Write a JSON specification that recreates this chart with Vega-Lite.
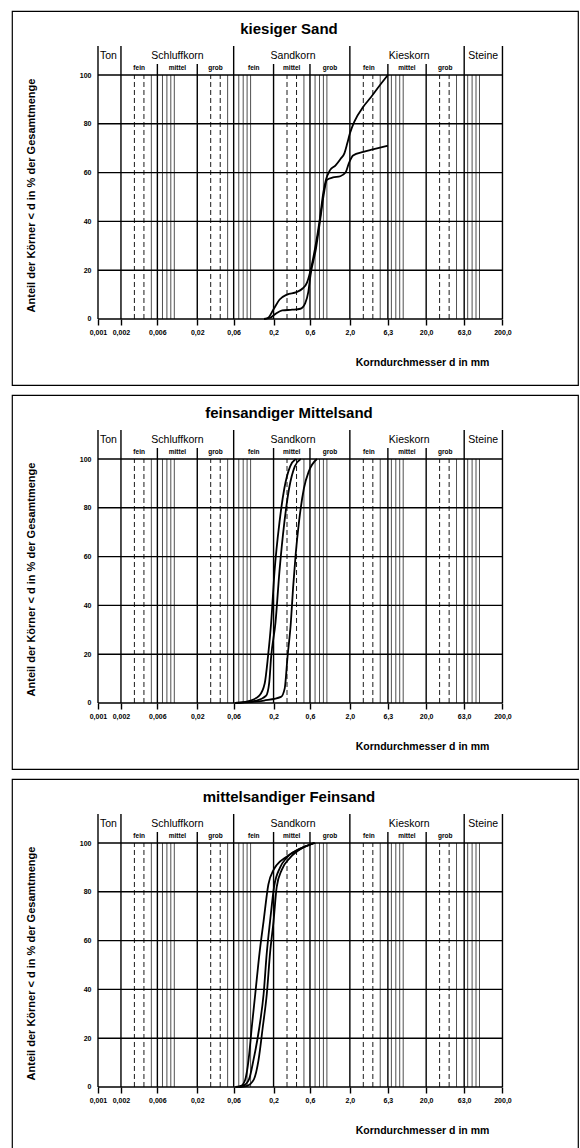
{
  "$schema": "https://vega.github.io/schema/vega-lite/v6.json",
  "background": "white",
  "padding": {"top": 10, "left": 11, "right": 0, "bottom": 0},
  "spacing": 8,
  "config": {"view": {"stroke": "black", "strokeWidth": 1.2}, "font": "Liberation Sans"},
  "datasets": {
    "hgrid": [{"p": 0}, {"p": 20}, {"p": 40}, {"p": 60}, {"p": 80}, {"p": 100}],
    "thin": [
      {"d": 0.003, "k": "dash"}, {"d": 0.004, "k": "dash"}, {"d": 0.005, "k": "solid"}, {"d": 0.007, "k": "solid"}, {"d": 0.008, "k": "solid"}, {"d": 0.009, "k": "solid"}, {"d": 0.01, "k": "solid"},
      {"d": 0.03, "k": "dash"}, {"d": 0.04, "k": "dash"}, {"d": 0.05, "k": "solid"}, {"d": 0.07, "k": "solid"}, {"d": 0.08, "k": "solid"}, {"d": 0.09, "k": "solid"}, {"d": 0.1, "k": "solid"},
      {"d": 0.3, "k": "dash"}, {"d": 0.4, "k": "dash"}, {"d": 0.5, "k": "solid"}, {"d": 0.7, "k": "solid"}, {"d": 0.8, "k": "solid"}, {"d": 0.9, "k": "solid"}, {"d": 1, "k": "solid"},
      {"d": 3, "k": "dash"}, {"d": 4, "k": "dash"}, {"d": 5, "k": "solid"}, {"d": 7, "k": "solid"}, {"d": 8, "k": "solid"}, {"d": 9, "k": "solid"}, {"d": 10, "k": "solid"},
      {"d": 30, "k": "dash"}, {"d": 40, "k": "dash"}, {"d": 50, "k": "solid"}, {"d": 70, "k": "solid"}, {"d": 80, "k": "solid"}, {"d": 90, "k": "solid"}, {"d": 100, "k": "solid"}
    ],
    "classlines": [{"d": 0.001}, {"d": 0.002}, {"d": 0.06}, {"d": 2}, {"d": 63}, {"d": 200}],
    "sublines": [{"d": 0.006}, {"d": 0.02}, {"d": 0.2}, {"d": 0.6}, {"d": 6.3}, {"d": 20}],
    "classes": [
      {"name": "Ton", "d": 0.00137}, {"name": "Schluffkorn", "d": 0.011}, {"name": "Sandkorn", "d": 0.36},
      {"name": "Kieskorn", "d": 12}, {"name": "Steine", "d": 112}
    ],
    "subclasses": [
      {"name": "fein", "d": 0.00346}, {"name": "mittel", "d": 0.011}, {"name": "grob", "d": 0.0346},
      {"name": "fein", "d": 0.11}, {"name": "mittel", "d": 0.346}, {"name": "grob", "d": 1.1},
      {"name": "fein", "d": 3.55}, {"name": "mittel", "d": 11.2}, {"name": "grob", "d": 35.5}
    ],
    "curves": [
      {"panel": 1, "s": "a", "d": 0.15, "p": 0}, {"panel": 1, "s": "a", "d": 0.17, "p": 0.5}, {"panel": 1, "s": "a", "d": 0.2, "p": 4},
      {"panel": 1, "s": "a", "d": 0.24, "p": 8}, {"panel": 1, "s": "a", "d": 0.3, "p": 10}, {"panel": 1, "s": "a", "d": 0.4, "p": 11},
      {"panel": 1, "s": "a", "d": 0.48, "p": 12.5}, {"panel": 1, "s": "a", "d": 0.55, "p": 15}, {"panel": 1, "s": "a", "d": 0.6, "p": 19},
      {"panel": 1, "s": "a", "d": 0.7, "p": 29}, {"panel": 1, "s": "a", "d": 0.8, "p": 40}, {"panel": 1, "s": "a", "d": 0.9, "p": 52},
      {"panel": 1, "s": "a", "d": 0.97, "p": 57}, {"panel": 1, "s": "a", "d": 1.1, "p": 61}, {"panel": 1, "s": "a", "d": 1.3, "p": 63},
      {"panel": 1, "s": "a", "d": 1.5, "p": 65.5}, {"panel": 1, "s": "a", "d": 1.7, "p": 68}, {"panel": 1, "s": "a", "d": 1.85, "p": 72},
      {"panel": 1, "s": "a", "d": 2.0, "p": 76}, {"panel": 1, "s": "a", "d": 2.3, "p": 81}, {"panel": 1, "s": "a", "d": 3.0, "p": 87},
      {"panel": 1, "s": "a", "d": 3.8, "p": 91}, {"panel": 1, "s": "a", "d": 5.0, "p": 96}, {"panel": 1, "s": "a", "d": 6.3, "p": 100},
      {"panel": 1, "s": "b", "d": 0.15, "p": 0}, {"panel": 1, "s": "b", "d": 0.18, "p": 0.5}, {"panel": 1, "s": "b", "d": 0.21, "p": 2},
      {"panel": 1, "s": "b", "d": 0.26, "p": 3.5}, {"panel": 1, "s": "b", "d": 0.35, "p": 3.8}, {"panel": 1, "s": "b", "d": 0.45, "p": 4.2},
      {"panel": 1, "s": "b", "d": 0.52, "p": 6.5}, {"panel": 1, "s": "b", "d": 0.57, "p": 11}, {"panel": 1, "s": "b", "d": 0.61, "p": 18},
      {"panel": 1, "s": "b", "d": 0.72, "p": 29}, {"panel": 1, "s": "b", "d": 0.82, "p": 41}, {"panel": 1, "s": "b", "d": 0.92, "p": 52},
      {"panel": 1, "s": "b", "d": 1.0, "p": 57}, {"panel": 1, "s": "b", "d": 1.2, "p": 58}, {"panel": 1, "s": "b", "d": 1.5, "p": 58.5},
      {"panel": 1, "s": "b", "d": 1.75, "p": 60}, {"panel": 1, "s": "b", "d": 1.95, "p": 64}, {"panel": 1, "s": "b", "d": 2.2, "p": 67},
      {"panel": 1, "s": "b", "d": 3.0, "p": 68.5}, {"panel": 1, "s": "b", "d": 4.0, "p": 69.5}, {"panel": 1, "s": "b", "d": 6.3, "p": 71},

      {"panel": 2, "s": "a", "d": 0.063, "p": 0}, {"panel": 2, "s": "a", "d": 0.1, "p": 1}, {"panel": 2, "s": "a", "d": 0.13, "p": 3},
      {"panel": 2, "s": "a", "d": 0.153, "p": 8}, {"panel": 2, "s": "a", "d": 0.169, "p": 19}, {"panel": 2, "s": "a", "d": 0.186, "p": 33},
      {"panel": 2, "s": "a", "d": 0.206, "p": 54}, {"panel": 2, "s": "a", "d": 0.239, "p": 74}, {"panel": 2, "s": "a", "d": 0.277, "p": 88},
      {"panel": 2, "s": "a", "d": 0.33, "p": 97}, {"panel": 2, "s": "a", "d": 0.39, "p": 100},
      {"panel": 2, "s": "b", "d": 0.063, "p": 0}, {"panel": 2, "s": "b", "d": 0.12, "p": 1}, {"panel": 2, "s": "b", "d": 0.16, "p": 3},
      {"panel": 2, "s": "b", "d": 0.175, "p": 8}, {"panel": 2, "s": "b", "d": 0.186, "p": 19}, {"panel": 2, "s": "b", "d": 0.212, "p": 33},
      {"panel": 2, "s": "b", "d": 0.239, "p": 54}, {"panel": 2, "s": "b", "d": 0.277, "p": 74}, {"panel": 2, "s": "b", "d": 0.32, "p": 88},
      {"panel": 2, "s": "b", "d": 0.38, "p": 97}, {"panel": 2, "s": "b", "d": 0.454, "p": 100},
      {"panel": 2, "s": "c", "d": 0.063, "p": 0}, {"panel": 2, "s": "c", "d": 0.15, "p": 1}, {"panel": 2, "s": "c", "d": 0.25, "p": 2.5},
      {"panel": 2, "s": "c", "d": 0.28, "p": 6}, {"panel": 2, "s": "c", "d": 0.305, "p": 19}, {"panel": 2, "s": "c", "d": 0.337, "p": 33},
      {"panel": 2, "s": "c", "d": 0.36, "p": 47}, {"panel": 2, "s": "c", "d": 0.39, "p": 61}, {"panel": 2, "s": "c", "d": 0.43, "p": 74},
      {"panel": 2, "s": "c", "d": 0.5, "p": 88}, {"panel": 2, "s": "c", "d": 0.58, "p": 95}, {"panel": 2, "s": "c", "d": 0.74, "p": 100},

      {"panel": 3, "s": "a", "d": 0.063, "p": 0}, {"panel": 3, "s": "a", "d": 0.075, "p": 0.5}, {"panel": 3, "s": "a", "d": 0.085, "p": 3},
      {"panel": 3, "s": "a", "d": 0.094, "p": 11}, {"panel": 3, "s": "a", "d": 0.104, "p": 25}, {"panel": 3, "s": "a", "d": 0.115, "p": 38},
      {"panel": 3, "s": "a", "d": 0.131, "p": 55}, {"panel": 3, "s": "a", "d": 0.148, "p": 68}, {"panel": 3, "s": "a", "d": 0.171, "p": 83},
      {"panel": 3, "s": "a", "d": 0.2, "p": 89}, {"panel": 3, "s": "a", "d": 0.22, "p": 91}, {"panel": 3, "s": "a", "d": 0.3, "p": 94.5},
      {"panel": 3, "s": "a", "d": 0.4, "p": 97}, {"panel": 3, "s": "a", "d": 0.6, "p": 99.3}, {"panel": 3, "s": "a", "d": 0.68, "p": 100},
      {"panel": 3, "s": "b", "d": 0.065, "p": 0}, {"panel": 3, "s": "b", "d": 0.08, "p": 0.5}, {"panel": 3, "s": "b", "d": 0.095, "p": 3},
      {"panel": 3, "s": "b", "d": 0.109, "p": 11}, {"panel": 3, "s": "b", "d": 0.131, "p": 25}, {"panel": 3, "s": "b", "d": 0.148, "p": 38},
      {"panel": 3, "s": "b", "d": 0.163, "p": 55}, {"panel": 3, "s": "b", "d": 0.18, "p": 68}, {"panel": 3, "s": "b", "d": 0.203, "p": 82},
      {"panel": 3, "s": "b", "d": 0.244, "p": 90}, {"panel": 3, "s": "b", "d": 0.297, "p": 94}, {"panel": 3, "s": "b", "d": 0.44, "p": 97.5},
      {"panel": 3, "s": "b", "d": 0.68, "p": 100},
      {"panel": 3, "s": "c", "d": 0.07, "p": 0}, {"panel": 3, "s": "c", "d": 0.09, "p": 0.5}, {"panel": 3, "s": "c", "d": 0.11, "p": 3},
      {"panel": 3, "s": "c", "d": 0.127, "p": 11}, {"panel": 3, "s": "c", "d": 0.145, "p": 25}, {"panel": 3, "s": "c", "d": 0.163, "p": 38},
      {"panel": 3, "s": "c", "d": 0.18, "p": 55}, {"panel": 3, "s": "c", "d": 0.2, "p": 68}, {"panel": 3, "s": "c", "d": 0.22, "p": 82},
      {"panel": 3, "s": "c", "d": 0.256, "p": 89}, {"panel": 3, "s": "c", "d": 0.33, "p": 94}, {"panel": 3, "s": "c", "d": 0.49, "p": 98.2},
      {"panel": 3, "s": "c", "d": 0.7, "p": 100}
    ]
  },
  "vconcat": [
    {
      "width": 566, "height": 374,
      "title": {"text": "kiesiger Sand", "offset": -38, "baseline": "alphabetic", "fontSize": 15, "fontWeight": "bold", "font": "Liberation Sans", "anchor": "middle", "dx": -6, "color": "black"},
      "resolve": {"axis": {"x": "independent", "y": "independent"}},
      "layer": [
        {"data": {"name": "hgrid"}, "mark": {"type": "rule", "strokeWidth": 1.4, "color": "black"},
         "encoding": {"y": {"field": "p", "type": "quantitative", "scale": {"domain": [-27.05, 126.23], "nice": false, "zero": false}, "axis": null},
                      "x": {"datum": 0.001, "type": "quantitative", "scale": {"type": "log", "domain": [0.00007463, 1954.3], "nice": false}, "axis": null}, "x2": {"datum": 200}}},
        {"data": {"name": "thin"}, "mark": {"type": "rule", "color": "black"},
         "encoding": {"x": {"field": "d", "type": "quantitative", "axis": null}, "y": {"datum": 0, "type": "quantitative", "axis": null}, "y2": {"datum": 100},
                      "strokeDash": {"field": "k", "type": "nominal", "scale": {"domain": ["dash", "solid"], "range": [[5, 3], [1, 0]]}, "legend": null},
                      "strokeWidth": {"field": "k", "type": "nominal", "scale": {"domain": ["dash", "solid"], "range": [0.9, 0.7]}, "legend": null}}},
        {"data": {"name": "classlines"}, "mark": {"type": "rule", "strokeWidth": 1.4, "color": "black"},
         "encoding": {"x": {"field": "d", "type": "quantitative", "axis": null}, "y": {"datum": 0, "type": "quantitative", "axis": null}, "y2": {"datum": 111.9}}},
        {"data": {"name": "sublines"}, "mark": {"type": "rule", "strokeWidth": 1.4, "color": "black"},
         "encoding": {"x": {"field": "d", "type": "quantitative", "axis": null}, "y": {"datum": 0, "type": "quantitative", "axis": null}, "y2": {"datum": 104.5}}},
        {"data": {"name": "classes"}, "mark": {"type": "text", "fontSize": 10.5, "baseline": "middle", "color": "black"},
         "encoding": {"x": {"field": "d", "type": "quantitative", "axis": null}, "y": {"datum": 107.8, "type": "quantitative", "axis": null}, "text": {"field": "name"}}},
        {"data": {"name": "subclasses"}, "mark": {"type": "text", "fontSize": 6.5, "fontWeight": "bold", "baseline": "middle", "color": "black"},
         "encoding": {"x": {"field": "d", "type": "quantitative", "axis": null}, "y": {"datum": 102.9, "type": "quantitative", "axis": null}, "text": {"field": "name"}}},
        {"data": {"name": "curves"}, "transform": [{"filter": "datum.panel == 1"}],
         "mark": {"type": "line", "interpolate": "monotone", "strokeWidth": 1.8, "color": "black"},
         "encoding": {
           "x": {"field": "d", "type": "quantitative",
                 "axis": {"orient": "bottom", "title": "Korndurchmesser d in mm", "offset": -66, "values": [0.001, 0.002, 0.006, 0.02, 0.06, 0.2, 0.6, 2, 6.3, 20, 63, 200],
                          "labelExpr": "replace(datum.value >= 2 ? format(datum.value, '.1f') : format(datum.value, ''), '.', ',')",
                          "domain": false, "grid": false, "tickSize": 6, "tickWidth": 1.4, "tickColor": "black", "labelFont": "Liberation Sans", "labelFontWeight": "bold",
                          "labelFontSize": 7, "labelColor": "black", "labelPadding": 3, "labelFlush": false, "labelOverlap": false,
                          "titleFont": "Liberation Sans", "titleFontWeight": "bold", "titleFontSize": 10.5, "titleColor": "black",
                          "titleX": 410, "titleY": 43, "titleBaseline": "middle", "titleAlign": "center", "zindex": 1}},
           "y": {"field": "p", "type": "quantitative",
                 "axis": {"orient": "left", "title": "Anteil der Körner < d in %  der Gesamtmenge", "offset": -86, "values": [0, 20, 40, 60, 80, 100],
                          "domain": false, "ticks": false, "grid": false, "labelPadding": 7, "labelFont": "Liberation Sans", "labelFontWeight": "bold",
                          "labelFontSize": 7, "labelColor": "black", "labelBaseline": "middle",
                          "titleFont": "Liberation Sans", "titleFontWeight": "bold", "titleFontSize": 11, "titleColor": "black",
                          "titleX": -67, "titleY": 184, "titleAngle": -90, "titleBaseline": "middle", "titleAlign": "center", "zindex": 1}},
           "detail": {"field": "s"}}}
      ]
    },
    {
      "width": 566, "height": 374,
      "title": {"text": "feinsandiger Mittelsand", "offset": -38, "baseline": "alphabetic", "fontSize": 15, "fontWeight": "bold", "font": "Liberation Sans", "anchor": "middle", "dx": -6, "color": "black"},
      "resolve": {"axis": {"x": "independent", "y": "independent"}},
      "layer": [
        {"data": {"name": "hgrid"}, "mark": {"type": "rule", "strokeWidth": 1.4, "color": "black"},
         "encoding": {"y": {"field": "p", "type": "quantitative", "scale": {"domain": [-27.05, 126.23], "nice": false, "zero": false}, "axis": null},
                      "x": {"datum": 0.001, "type": "quantitative", "scale": {"type": "log", "domain": [0.00007463, 1954.3], "nice": false}, "axis": null}, "x2": {"datum": 200}}},
        {"data": {"name": "thin"}, "mark": {"type": "rule", "color": "black"},
         "encoding": {"x": {"field": "d", "type": "quantitative", "axis": null}, "y": {"datum": 0, "type": "quantitative", "axis": null}, "y2": {"datum": 100},
                      "strokeDash": {"field": "k", "type": "nominal", "scale": {"domain": ["dash", "solid"], "range": [[5, 3], [1, 0]]}, "legend": null},
                      "strokeWidth": {"field": "k", "type": "nominal", "scale": {"domain": ["dash", "solid"], "range": [0.9, 0.7]}, "legend": null}}},
        {"data": {"name": "classlines"}, "mark": {"type": "rule", "strokeWidth": 1.4, "color": "black"},
         "encoding": {"x": {"field": "d", "type": "quantitative", "axis": null}, "y": {"datum": 0, "type": "quantitative", "axis": null}, "y2": {"datum": 111.9}}},
        {"data": {"name": "sublines"}, "mark": {"type": "rule", "strokeWidth": 1.4, "color": "black"},
         "encoding": {"x": {"field": "d", "type": "quantitative", "axis": null}, "y": {"datum": 0, "type": "quantitative", "axis": null}, "y2": {"datum": 104.5}}},
        {"data": {"name": "classes"}, "mark": {"type": "text", "fontSize": 10.5, "baseline": "middle", "color": "black"},
         "encoding": {"x": {"field": "d", "type": "quantitative", "axis": null}, "y": {"datum": 107.8, "type": "quantitative", "axis": null}, "text": {"field": "name"}}},
        {"data": {"name": "subclasses"}, "mark": {"type": "text", "fontSize": 6.5, "fontWeight": "bold", "baseline": "middle", "color": "black"},
         "encoding": {"x": {"field": "d", "type": "quantitative", "axis": null}, "y": {"datum": 102.9, "type": "quantitative", "axis": null}, "text": {"field": "name"}}},
        {"data": {"name": "curves"}, "transform": [{"filter": "datum.panel == 2"}],
         "mark": {"type": "line", "interpolate": "monotone", "strokeWidth": 1.8, "color": "black"},
         "encoding": {
           "x": {"field": "d", "type": "quantitative",
                 "axis": {"orient": "bottom", "title": "Korndurchmesser d in mm", "offset": -66, "values": [0.001, 0.002, 0.006, 0.02, 0.06, 0.2, 0.6, 2, 6.3, 20, 63, 200],
                          "labelExpr": "replace(datum.value >= 2 ? format(datum.value, '.1f') : format(datum.value, ''), '.', ',')",
                          "domain": false, "grid": false, "tickSize": 6, "tickWidth": 1.4, "tickColor": "black", "labelFont": "Liberation Sans", "labelFontWeight": "bold",
                          "labelFontSize": 7, "labelColor": "black", "labelPadding": 3, "labelFlush": false, "labelOverlap": false,
                          "titleFont": "Liberation Sans", "titleFontWeight": "bold", "titleFontSize": 10.5, "titleColor": "black",
                          "titleX": 410, "titleY": 43, "titleBaseline": "middle", "titleAlign": "center", "zindex": 1}},
           "y": {"field": "p", "type": "quantitative",
                 "axis": {"orient": "left", "title": "Anteil der Körner < d in %  der Gesamtmenge", "offset": -86, "values": [0, 20, 40, 60, 80, 100],
                          "domain": false, "ticks": false, "grid": false, "labelPadding": 7, "labelFont": "Liberation Sans", "labelFontWeight": "bold",
                          "labelFontSize": 7, "labelColor": "black", "labelBaseline": "middle",
                          "titleFont": "Liberation Sans", "titleFontWeight": "bold", "titleFontSize": 11, "titleColor": "black",
                          "titleX": -67, "titleY": 184, "titleAngle": -90, "titleBaseline": "middle", "titleAlign": "center", "zindex": 1}},
           "detail": {"field": "s"}}}
      ]
    },
    {
      "width": 566, "height": 374,
      "title": {"text": "mittelsandiger Feinsand", "offset": -38, "baseline": "alphabetic", "fontSize": 15, "fontWeight": "bold", "font": "Liberation Sans", "anchor": "middle", "dx": -6, "color": "black"},
      "resolve": {"axis": {"x": "independent", "y": "independent"}},
      "layer": [
        {"data": {"name": "hgrid"}, "mark": {"type": "rule", "strokeWidth": 1.4, "color": "black"},
         "encoding": {"y": {"field": "p", "type": "quantitative", "scale": {"domain": [-27.05, 126.23], "nice": false, "zero": false}, "axis": null},
                      "x": {"datum": 0.001, "type": "quantitative", "scale": {"type": "log", "domain": [0.00007463, 1954.3], "nice": false}, "axis": null}, "x2": {"datum": 200}}},
        {"data": {"name": "thin"}, "mark": {"type": "rule", "color": "black"},
         "encoding": {"x": {"field": "d", "type": "quantitative", "axis": null}, "y": {"datum": 0, "type": "quantitative", "axis": null}, "y2": {"datum": 100},
                      "strokeDash": {"field": "k", "type": "nominal", "scale": {"domain": ["dash", "solid"], "range": [[5, 3], [1, 0]]}, "legend": null},
                      "strokeWidth": {"field": "k", "type": "nominal", "scale": {"domain": ["dash", "solid"], "range": [0.9, 0.7]}, "legend": null}}},
        {"data": {"name": "classlines"}, "mark": {"type": "rule", "strokeWidth": 1.4, "color": "black"},
         "encoding": {"x": {"field": "d", "type": "quantitative", "axis": null}, "y": {"datum": 0, "type": "quantitative", "axis": null}, "y2": {"datum": 111.9}}},
        {"data": {"name": "sublines"}, "mark": {"type": "rule", "strokeWidth": 1.4, "color": "black"},
         "encoding": {"x": {"field": "d", "type": "quantitative", "axis": null}, "y": {"datum": 0, "type": "quantitative", "axis": null}, "y2": {"datum": 104.5}}},
        {"data": {"name": "classes"}, "mark": {"type": "text", "fontSize": 10.5, "baseline": "middle", "color": "black"},
         "encoding": {"x": {"field": "d", "type": "quantitative", "axis": null}, "y": {"datum": 107.8, "type": "quantitative", "axis": null}, "text": {"field": "name"}}},
        {"data": {"name": "subclasses"}, "mark": {"type": "text", "fontSize": 6.5, "fontWeight": "bold", "baseline": "middle", "color": "black"},
         "encoding": {"x": {"field": "d", "type": "quantitative", "axis": null}, "y": {"datum": 102.9, "type": "quantitative", "axis": null}, "text": {"field": "name"}}},
        {"data": {"name": "curves"}, "transform": [{"filter": "datum.panel == 3"}],
         "mark": {"type": "line", "interpolate": "monotone", "strokeWidth": 1.8, "color": "black"},
         "encoding": {
           "x": {"field": "d", "type": "quantitative",
                 "axis": {"orient": "bottom", "title": "Korndurchmesser d in mm", "offset": -66, "values": [0.001, 0.002, 0.006, 0.02, 0.06, 0.2, 0.6, 2, 6.3, 20, 63, 200],
                          "labelExpr": "replace(datum.value >= 2 ? format(datum.value, '.1f') : format(datum.value, ''), '.', ',')",
                          "domain": false, "grid": false, "tickSize": 6, "tickWidth": 1.4, "tickColor": "black", "labelFont": "Liberation Sans", "labelFontWeight": "bold",
                          "labelFontSize": 7, "labelColor": "black", "labelPadding": 3, "labelFlush": false, "labelOverlap": false,
                          "titleFont": "Liberation Sans", "titleFontWeight": "bold", "titleFontSize": 10.5, "titleColor": "black",
                          "titleX": 410, "titleY": 43, "titleBaseline": "middle", "titleAlign": "center", "zindex": 1}},
           "y": {"field": "p", "type": "quantitative",
                 "axis": {"orient": "left", "title": "Anteil der Körner < d in %  der Gesamtmenge", "offset": -86, "values": [0, 20, 40, 60, 80, 100],
                          "domain": false, "ticks": false, "grid": false, "labelPadding": 7, "labelFont": "Liberation Sans", "labelFontWeight": "bold",
                          "labelFontSize": 7, "labelColor": "black", "labelBaseline": "middle",
                          "titleFont": "Liberation Sans", "titleFontWeight": "bold", "titleFontSize": 11, "titleColor": "black",
                          "titleX": -67, "titleY": 184, "titleAngle": -90, "titleBaseline": "middle", "titleAlign": "center", "zindex": 1}},
           "detail": {"field": "s"}}}
      ]
    }
  ]
}
